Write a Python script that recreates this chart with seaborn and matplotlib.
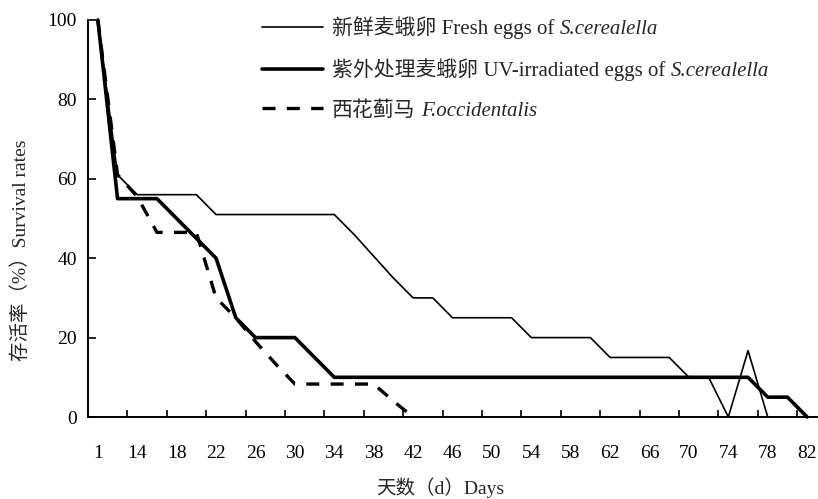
import numpy as np
import matplotlib
matplotlib.use('Agg')
import matplotlib.pyplot as plt
import seaborn as sns

# 观察日（类别轴，每两个类别标一个刻度标签）
days = [1, 12, 14, 16, 18, 20, 22, 24, 26, 28, 30, 32, 34, 36, 38, 40, 42, 44, 46,
        48, 50, 52, 54, 56, 58, 60, 62, 64, 66, 68, 70, 72, 74, 76, 78, 80, 82]
tick_labels = [str(d) for d in days[::2]]

# 存活率 (%)
fresh_eggs = [100, 61, 56, 56, 56, 56, 51, 51, 51, 51, 51, 51, 51, 46, 40.5, 35,
              30, 30, 25, 25, 25, 25, 20, 20, 20, 20, 15, 15, 15, 15, 10, 10, 0, 16.7, 0]
uv_eggs = [100, 55, 55, 55, 50, 45, 40, 25, 20, 20, 20, 15, 10, 10, 10, 10, 10, 10, 10,
           10, 10, 10, 10, 10, 10, 10, 10, 10, 10, 10, 10, 10, 10, 10, 5, 5, 0]
thrips = [100, 61, 55.5, 46.5, 46.5, 46.5, 30, 25, 19, 13.5, 8.3, 8.3, 8.3, 8.3, 8.3, 4, 0]

labels_cn = ['新鲜麦蛾卵 Fresh eggs of', '紫外处理麦蛾卵 UV-irradiated eggs of', '西花蓟马']
labels_it = ['S.cerealella', 'S.cerealella', 'F.occidentalis']

sns.set_style('ticks')
plt.rcParams['font.family'] = ['Liberation Serif', 'Noto Sans CJK SC']
plt.rcParams['axes.unicode_minus'] = False

fig = plt.figure(figsize=(8.18, 4.99), dpi=100)
ax = fig.add_axes([88 / 818, 1 - 417 / 499, 729 / 818, 397 / 499])

sns.lineplot(x=np.arange(len(fresh_eggs)), y=fresh_eggs, ax=ax, color='black',
             lw=1.2, label=labels_cn[0], clip_on=False)
sns.lineplot(x=np.arange(len(uv_eggs)), y=uv_eggs, ax=ax, color='black',
             lw=2.6, label=labels_cn[1], clip_on=False)
sns.lineplot(x=np.arange(len(thrips)), y=thrips, ax=ax, color='black',
             lw=2.4, linestyle=(0, (3.9, 3.4)), label=labels_cn[2], clip_on=False)

ax.set_xlim(-0.5, len(days) - 0.5)
ax.set_ylim(0, 100)
sns.despine(ax=ax)
for s in ['left', 'bottom']:
    ax.spines[s].set_linewidth(1.4)
    ax.spines[s].set_color('black')

ax.set_xticks(np.arange(0, len(days), 2))
ax.set_xticklabels(tick_labels)
ax.set_xticks(np.arange(1.5, len(days) - 1, 2), minor=True)
ax.tick_params(axis='x', which='major', length=0, pad=20, labelsize=14, colors='black')
ax.tick_params(axis='x', which='minor', direction='in', length=5, width=1.2, color='black')
ax.set_yticks([0, 20, 40, 60, 80, 100])
ax.tick_params(axis='y', direction='in', length=6, width=1.2, pad=8, labelsize=14,
               colors='black')

ax.set_xlabel('天数（d）Days', fontsize=14)
ax.set_ylabel('存活率（%）Survival rates', fontsize=14)
ax.xaxis.set_label_coords(0.483, -0.152)
ax.yaxis.set_label_coords(-0.08, 0.42)

leg = ax.legend(loc='upper left', bbox_to_anchor=(0.239, 1.01), frameon=False,
                fontsize=15, handlelength=2.9, handletextpad=0.45, labelspacing=0.95,
                borderpad=0, borderaxespad=0)
fig.canvas.draw()
for txt, name in zip(leg.get_texts(), labels_it):
    ax.annotate(name, xy=(1, 0), xycoords=txt, xytext=(4, 0), textcoords='offset points',
                ha='left', va='bottom', fontsize=15, style='italic',
                family='Liberation Serif', zorder=6)

fig.savefig('out.png', dpi=100)
